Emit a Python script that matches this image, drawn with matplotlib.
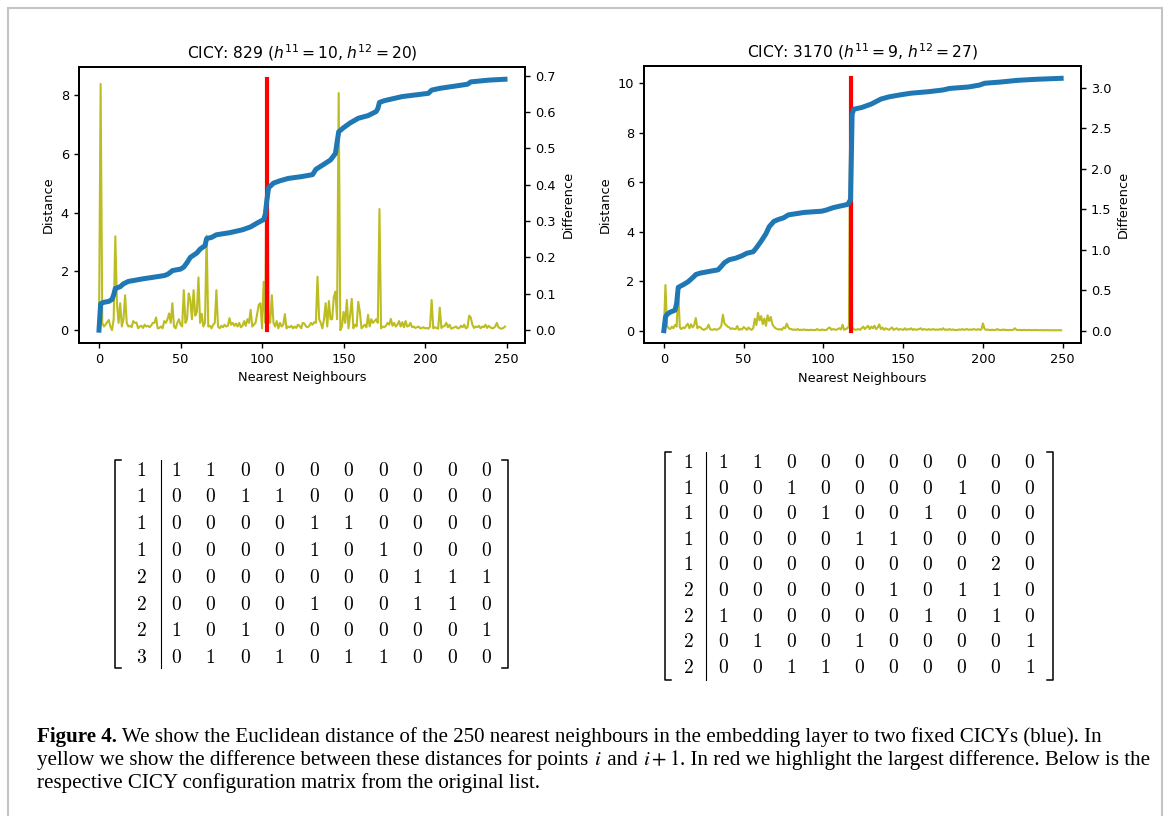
"""Nearest-neighbour distances in the embedding layer for two CICYs."""
import matplotlib
matplotlib.use('Agg')
import matplotlib.pyplot as plt
from matplotlib.lines import Line2D
from matplotlib.patches import Rectangle
from matplotlib.transforms import IdentityTransform

W, H = 1167, 816

# CICY 829: distance curve (knots) and difference per neighbour
x_829 = [0, 1, 3, 6, 8, 9, 10, 13, 15, 18, 22, 27, 33, 40, 42, 44, 45, 50, 52, 54,
         56, 60, 62, 65, 66, 69, 72, 80, 88, 93, 97, 101, 102, 103, 104, 107, 111,
         116, 124, 131, 133, 137, 142, 145, 146, 147, 150, 154, 159, 165, 170, 171,
         172, 175, 186, 202, 204, 209, 226, 228, 239, 249]
dist_829 = [0.0, 0.9, 0.95, 0.98, 1.05, 1.2, 1.42, 1.48, 1.58, 1.66, 1.7, 1.75, 1.8,
            1.86, 1.9, 1.98, 2.03, 2.08, 2.15, 2.3, 2.48, 2.63, 2.76, 2.88, 3.12,
            3.16, 3.25, 3.32, 3.42, 3.52, 3.65, 3.77, 3.95, 4.45, 4.85, 5.01, 5.09,
            5.17, 5.23, 5.3, 5.48, 5.62, 5.8, 6.02, 6.4, 6.76, 6.9, 7.06, 7.22, 7.31,
            7.45, 7.55, 7.76, 7.82, 7.96, 8.07, 8.18, 8.24, 8.38, 8.46, 8.52, 8.55]
diff_829 = [
    0.0, 0.677, 0.02, 0.01, 0.015, 0.022, 0.028, 0.01, 0.0, 0.03,
    0.258, 0.074, 0.02, 0.074, 0.01, 0.03, 0.096, 0.02, 0.01, 0.012,
    0.008, 0.025, 0.02, 0.021, 0.005, 0.01, 0.012, 0.006, 0.015, 0.01,
    0.012, 0.008, 0.013, 0.02, 0.02, 0.035, 0.005, 0.006, 0.01, 0.005,
    0.025, 0.02, 0.03, 0.046, 0.02, 0.074, 0.01, 0.005, 0.02, 0.03,
    0.015, 0.01, 0.11, 0.02, 0.03, 0.101, 0.083, 0.03, 0.11, 0.04,
    0.05, 0.145, 0.02, 0.045, 0.01, 0.02, 0.26, 0.01, 0.012, 0.005,
    0.015, 0.02, 0.11, 0.01, 0.005, 0.012, 0.008, 0.015, 0.01, 0.012,
    0.033, 0.015, 0.02, 0.012, 0.018, 0.01, 0.02, 0.008, 0.012, 0.025,
    0.012, 0.03, 0.02, 0.056, 0.01, 0.015, 0.02, 0.045, 0.07, 0.074,
    0.005, 0.133, 0.02, 0.69, 0.03, 0.02, 0.096, 0.02, 0.01, 0.025,
    0.005, 0.02, 0.01, 0.015, 0.044, 0.005, 0.01, 0.008, 0.012, 0.005,
    0.01, 0.006, 0.015, 0.012, 0.005, 0.02, 0.018, 0.01, 0.008, 0.012,
    0.02, 0.015, 0.022, 0.02, 0.147, 0.03, 0.02, 0.005, 0.03, 0.074,
    0.01, 0.08, 0.03, 0.03, 0.092, 0.106, 0.03, 0.652, 0.0, 0.01,
    0.05, 0.02, 0.083, 0.005, 0.04, 0.086, 0.005, 0.015, 0.01, 0.078,
    0.05, 0.005, 0.01, 0.015, 0.008, 0.042, 0.01, 0.03, 0.02, 0.025,
    0.03, 0.02, 0.333, 0.005, 0.01, 0.008, 0.012, 0.02, 0.015, 0.031,
    0.012, 0.02, 0.01, 0.015, 0.025, 0.01, 0.022, 0.008, 0.025, 0.01,
    0.012, 0.02, 0.008, 0.01, 0.006, 0.008, 0.01, 0.005, 0.006, 0.008,
    0.005, 0.006, 0.004, 0.01, 0.083, 0.005, 0.008, 0.006, 0.004, 0.062,
    0.006, 0.01, 0.012, 0.02, 0.008, 0.015, 0.004, 0.006, 0.008, 0.01,
    0.005, 0.006, 0.012, 0.008, 0.015, 0.005, 0.008, 0.04, 0.035, 0.015,
    0.006, 0.01, 0.008, 0.012, 0.005, 0.01, 0.008, 0.015, 0.006, 0.012,
    0.008, 0.005, 0.006, 0.01, 0.02, 0.008, 0.005, 0.004, 0.006, 0.01]
max_829 = 103

# CICY 3170
x_3170 = [0, 1, 2, 4, 7, 8, 9, 11, 13, 15, 17, 19, 20, 23, 28, 34, 36, 38, 41, 45,
          49, 52, 56, 58, 61, 64, 66, 69, 72, 75, 78, 88, 99, 102, 106, 110, 115,
          116, 117, 118, 119, 124, 130, 136, 141, 148, 155, 166, 175, 179, 191, 198,
          201, 211, 222, 233, 249]
dist_3170 = [0.0, 0.55, 0.66, 0.75, 0.83, 1.1, 1.75, 1.82, 1.89, 1.97, 2.08, 2.2,
             2.27, 2.33, 2.39, 2.46, 2.6, 2.75, 2.87, 2.93, 3.03, 3.13, 3.19, 3.35,
             3.62, 3.92, 4.2, 4.42, 4.5, 4.56, 4.68, 4.78, 4.83, 4.88, 4.97, 5.03,
             5.1, 5.18, 5.3, 8.75, 8.95, 9.02, 9.16, 9.36, 9.45, 9.53, 9.6, 9.66,
             9.73, 9.79, 9.85, 9.93, 10.0, 10.05, 10.12, 10.16, 10.2]
diff_3170 = [
    0.0, 0.565, 0.06, 0.03, 0.02, 0.05, 0.03, 0.07, 0.05, 0.5,
    0.04, 0.02, 0.04, 0.03, 0.06, 0.086, 0.03, 0.08, 0.04, 0.07,
    0.156, 0.03, 0.05, 0.04, 0.02, 0.01, 0.02, 0.03, 0.074, 0.02,
    0.01, 0.015, 0.02, 0.01, 0.02, 0.03, 0.06, 0.197, 0.09, 0.07,
    0.05, 0.04, 0.02, 0.03, 0.02, 0.02, 0.057, 0.01, 0.02, 0.015,
    0.045, 0.03, 0.01, 0.04, 0.02, 0.01, 0.03, 0.148, 0.07, 0.22,
    0.127, 0.18, 0.08, 0.15, 0.06, 0.19, 0.12, 0.17, 0.08, 0.05,
    0.03, 0.02, 0.015, 0.02, 0.01, 0.04, 0.03, 0.086, 0.04, 0.02,
    0.02, 0.01, 0.015, 0.01, 0.02, 0.008, 0.012, 0.01, 0.015, 0.008,
    0.01, 0.006, 0.012, 0.008, 0.01, 0.006, 0.02, 0.01, 0.005, 0.015,
    0.01, 0.008, 0.01, 0.03, 0.04, 0.01, 0.02, 0.015, 0.01, 0.02,
    0.03, 0.015, 0.074, 0.01, 0.02, 0.03, 0.06, 3.12, 0.04, 0.02,
    0.01, 0.015, 0.02, 0.01, 0.03, 0.05, 0.02, 0.04, 0.06, 0.02,
    0.05, 0.03, 0.06, 0.02, 0.04, 0.078, 0.02, 0.04, 0.01, 0.03,
    0.02, 0.01, 0.025, 0.04, 0.01, 0.02, 0.03, 0.01, 0.02, 0.015,
    0.01, 0.03, 0.01, 0.02, 0.015, 0.03, 0.01, 0.02, 0.01, 0.015,
    0.02, 0.03, 0.01, 0.02, 0.015, 0.01, 0.02, 0.01, 0.015, 0.02,
    0.01, 0.015, 0.01, 0.02, 0.01, 0.03, 0.01, 0.015, 0.01, 0.02,
    0.01, 0.015, 0.01, 0.008, 0.01, 0.015, 0.01, 0.02, 0.01, 0.015,
    0.02, 0.01, 0.015, 0.01, 0.02, 0.015, 0.01, 0.02, 0.01, 0.015,
    0.09, 0.02, 0.01, 0.015, 0.008, 0.01, 0.012, 0.008, 0.01, 0.02,
    0.01, 0.008, 0.01, 0.015, 0.008, 0.01, 0.006, 0.01, 0.008, 0.012,
    0.03, 0.01, 0.008, 0.01, 0.006, 0.008, 0.01, 0.006, 0.008, 0.01,
    0.005, 0.008, 0.006, 0.01, 0.005, 0.007, 0.006, 0.008, 0.005, 0.006,
    0.007, 0.005, 0.006, 0.005, 0.006, 0.004, 0.005, 0.006, 0.005, 0.005]
max_3170 = 117

titles = [r'CICY: 829 ($h^{11} = 10$, $h^{12} = 20$)',
          r'CICY: 3170 ($h^{11} = 9$, $h^{12} = 27$)']

# configuration matrices (first column is the projective space dimension)
conf_829 = [
    [1, 1, 1, 0, 0, 0, 0, 0, 0, 0, 0],
    [1, 0, 0, 1, 1, 0, 0, 0, 0, 0, 0],
    [1, 0, 0, 0, 0, 1, 1, 0, 0, 0, 0],
    [1, 0, 0, 0, 0, 1, 0, 1, 0, 0, 0],
    [2, 0, 0, 0, 0, 0, 0, 0, 1, 1, 1],
    [2, 0, 0, 0, 0, 1, 0, 0, 1, 1, 0],
    [2, 1, 0, 1, 0, 0, 0, 0, 0, 0, 1],
    [3, 0, 1, 0, 1, 0, 1, 1, 0, 0, 0]]
conf_3170 = [
    [1, 1, 1, 0, 0, 0, 0, 0, 0, 0, 0],
    [1, 0, 0, 1, 0, 0, 0, 0, 1, 0, 0],
    [1, 0, 0, 0, 1, 0, 0, 1, 0, 0, 0],
    [1, 0, 0, 0, 0, 1, 1, 0, 0, 0, 0],
    [1, 0, 0, 0, 0, 0, 0, 0, 0, 2, 0],
    [2, 0, 0, 0, 0, 0, 1, 0, 1, 1, 0],
    [2, 1, 0, 0, 0, 0, 0, 1, 0, 1, 0],
    [2, 0, 1, 0, 0, 1, 0, 0, 0, 0, 1],
    [2, 0, 0, 1, 1, 0, 0, 0, 0, 0, 1]]

caption = [
    [('Figure 4.', 'bold'),
     (' We show the Euclidean distance of the 250 nearest neighbours in the '
      'embedding layer to two fixed CICYs (blue). In', 'normal')],
    [('yellow we show the difference between these distances for points ', 'normal'),
     ('$i$', 'math'), (' and ', 'normal'), ('$i+1$', 'math'),
     ('. In red we highlight the largest difference. Below is the', 'normal')],
    [('respective CICY configuration matrix from the original list.', 'normal')]]


def px_axes(fig, x0, y0, x1, y1):
    """Axes from pixel box (top-left origin)."""
    return fig.add_axes([x0 / W, 1 - y1 / H, (x1 - x0) / W, (y1 - y0) / H])


def neighbour_plot(ax, xk, dist, diff, imax, title):
    ax2 = ax.twinx()
    ax2.plot(range(len(diff)), diff, color='#bcbd22', lw=1.5)
    ax.plot(xk, dist, color='#1f77b4', lw=3.6, zorder=3)
    ax.plot([imax, imax], [0, max(dist)], color='red', lw=3, zorder=2)
    ax.set_zorder(ax2.get_zorder() + 1)
    ax.patch.set_visible(False)
    ax.set_title(title, fontsize=11.2)
    ax.set_xlabel('Nearest Neighbours', fontsize=9.3)
    ax.set_ylabel('Distance', fontsize=9.3)
    ax2.set_ylabel('Difference', fontsize=9.3)
    ax.set_xticks([0, 50, 100, 150, 200, 250])
    for a in (ax, ax2):
        a.tick_params(labelsize=9.3, length=3.6, width=1)
        for s in a.spines.values():
            s.set_linewidth(1.4)


def draw_matrix(fig, rows, x_first, x_sep, x_col0, dx, x_brl, x_brr, y_row0, dy, y_top, y_bot):
    tr = IdentityTransform()
    for i, row in enumerate(rows):
        y = H - (y_row0 + i * dy)
        fig.text(x_first, y, '$%d$' % row[0], transform=tr, ha='center', va='center',
                 fontsize=14, math_fontfamily='cm')
        for j, v in enumerate(row[1:]):
            fig.text(x_col0 + j * dx, y, '$%d$' % v, transform=tr, ha='center',
                     va='center', fontsize=14, math_fontfamily='cm')
    fig.add_artist(Line2D([x_sep, x_sep], [H - y_top, H - y_bot], color='black',
                          lw=0.8, transform=tr))
    serif = 6
    fig.add_artist(Line2D([x_brl + serif, x_brl, x_brl, x_brl + serif],
                          [H - y_top, H - y_top, H - y_bot, H - y_bot],
                          color='black', lw=1.1, transform=tr))
    fig.add_artist(Line2D([x_brr - serif, x_brr, x_brr, x_brr - serif],
                          [H - y_top, H - y_top, H - y_bot, H - y_bot],
                          color='black', lw=1.1, transform=tr))


def draw_line(fig, x, y, runs, size, renderer):
    tr = IdentityTransform()
    texts = []
    for s, style in runs:
        kw = dict(fontsize=size, transform=tr, va='baseline', ha='left')
        if style == 'math':
            t = fig.text(x, y, s, family='Liberation Serif', math_fontfamily='stix', **kw)
        else:
            t = fig.text(x, y, s, family='Liberation Serif', weight=style, **kw)
        texts.append(t)
        x = t.get_window_extent(renderer).x1
        if style == 'math':
            x += 0.5
    return texts, x


fig = plt.figure(figsize=(W / 100, H / 100), dpi=100)
renderer = fig.canvas.get_renderer()

# outer page frame
fig.add_artist(Rectangle((8, -20), 1154, H - 8 + 20, transform=IdentityTransform(),
                         fill=False, edgecolor='#c4c4c4', lw=1.5))

ax_l = px_axes(fig, 78.7, 66.7, 525.3, 342.7)
neighbour_plot(ax_l, x_829, dist_829, diff_829, max_829, titles[0])
ax_r = px_axes(fig, 644, 65.7, 1081, 343.3)
neighbour_plot(ax_r, x_3170, dist_3170, diff_3170, max_3170, titles[1])

draw_matrix(fig, conf_829, 141.5, 160.5, 176, 34.5, 115, 508, 470, 26.8, 460, 668)
draw_matrix(fig, conf_3170, 688, 705.5, 723, 34.1, 665, 1053, 462.5, 25.6, 452, 680)

# caption: fit the longest line to its width in the reference
texts, x_end = draw_line(fig, 37, H - 765, caption[1], 10, renderer)
size = 10 * (1150 - 37) / (x_end - 37)
for t in texts:
    t.remove()
for k, y in enumerate([742, 765, 788]):
    draw_line(fig, 37, H - y, caption[k], size, renderer)

fig.savefig('out.png', dpi=100)
